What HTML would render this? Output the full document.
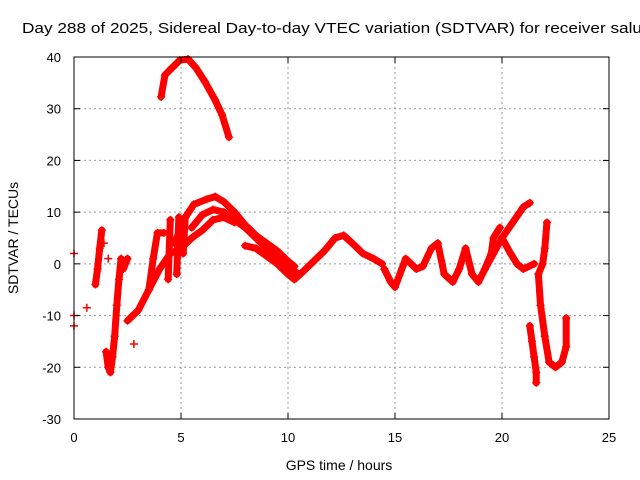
<!DOCTYPE html>
<html><head><meta charset="utf-8"><style>
body{margin:0;background:#fff;overflow:hidden}
svg{display:block;font-family:"Liberation Sans",sans-serif}
</style></head><body>
<svg id="c" width="640" height="480">
<text x="22" y="33" font-size="15" textLength="620" lengthAdjust="spacingAndGlyphs">Day 288 of 2025, Sidereal Day-to-day VTEC variation (SDTVAR) for receiver salu</text>
<g id="grid"></g>
<g id="marks"></g>
<rect x="74" y="57" width="535" height="362" fill="none" stroke="#000" stroke-width="1"/>
<g id="axes"></g>
<text x="339" y="470" text-anchor="middle" font-size="14">GPS time / hours</text>
<text transform="translate(18,238) rotate(-90)" text-anchor="middle" font-size="14">SDTVAR / TECUs</text>
</svg>
<script>
const xTicks=[0,5,10,15,20,25];
const yTicks=[-30,-20,-10,0,10,20,30,40];
const trackTop=[[4.07,32.3],[4.25,36.5],[4.58,37.9],[4.95,39.4],[5.33,39.6],[5.7,37.9],[6.12,35.2],[6.59,31.7],[6.92,28.8],[7.24,24.5]];
const trackUpper=[[4.7,4],[5.2,9],[5.6,11.5],[6.2,12.5],[6.6,13],[7,12],[7.5,10],[8,7.5],[8.5,5.5],[9,4],[9.5,2.5],[10,0.5],[10.3,-0.5]];
const trackMid=[[5.5,7],[6,9.5],[6.5,10.5],[7,10],[7.5,8.5],[8,7],[8.5,5],[9,3],[9.5,1.5],[10,-0.5],[10.5,-2]];
const trackLower=[[2.5,-11],[3,-9],[3.5,-5],[4,-1],[4.5,2],[5,3],[5.5,5],[6,6.5],[6.5,8.5],[7,9],[7.5,8]];
const trackLow2=[[8,3.5],[8.5,3],[9,1.5],[9.5,0],[10,-2],[10.3,-3],[10.7,-1.5],[11.2,0.5],[11.7,2.5],[12.2,5],[12.6,5.5],[13,4],[13.5,2],[14,1],[14.4,0]];
const trackMidB=[[14.5,-1],[14.8,-3.5],[15,-4.5],[15.5,1],[16,-1],[16.3,-0.5],[16.7,3],[17,4],[17.3,-2],[17.7,-3.5],[18,-1],[18.3,3],[18.6,-2],[18.9,-3.5],[19.2,-1],[19.5,2],[19.6,5],[19.9,7]];
const trackRise=[[19.2,-1],[19.6,2],[20,5],[20.5,8],[21,11],[21.3,11.8]];
const trackFall=[[20,5],[20.4,2],[20.7,0],[21,-1],[21.5,0]];
const trackRight=[[22.1,8],[22,3],[21.9,0],[21.7,-2],[21.8,-8],[22,-14],[22.2,-19],[22.5,-20],[22.8,-19],[23,-16],[23,-10.5]];
const trackRight2=[[21.3,-12],[21.4,-15],[21.5,-18],[21.6,-21],[21.6,-23]];
const leftA=[[1,-4],[1.1,-1],[1.2,3],[1.3,6.5]];
const leftB=[[1.5,-17],[1.6,-20],[1.7,-21],[1.8,-18],[1.9,-14],[2,-8],[2.1,-3],[2.2,1]];
const leftC=[[2.3,-1],[2.5,1]];
const leftD=[[3.5,-5],[3.7,1],[3.9,6],[4.2,6]];
const spike1=[[4.4,-3],[4.5,8.5]];
const spike2=[[4.8,-2],[4.9,9]];
const spike3=[[5.1,2],[5.2,9]];
const trackLeft=[[0,2],[0,-10],[0,-12],[0.6,-8.5],[1.4,4],[2.8,-15.5],[1.6,1]];
const tracks=[trackTop,trackUpper,trackMid,trackLower,trackLow2,trackMidB,trackRise,trackFall,trackRight,trackRight2,leftA,leftB,leftC,leftD,spike1,spike2,spike3,trackLeft];
const NS="http://www.w3.org/2000/svg";
const sx=h=>74+h*21.4, sy=v=>57+(40-v)*5.171;
const grid=document.getElementById('grid'),axes=document.getElementById('axes'),marks=document.getElementById('marks');
function mk(p,t,a){const e=document.createElementNS(NS,t);for(const k in a)e.setAttribute(k,a[k]);p.appendChild(e);return e;}
xTicks.forEach(t=>{const x=sx(t);
 if(t>0&&t<25){const l=mk(grid,'line',{x1:x,x2:x,y1:57,y2:419,stroke:'#999','stroke-dasharray':'2,3'});
 
 }
 const tx=mk(axes,'text',{x:x,y:442,'text-anchor':'middle','font-size':13});tx.textContent=t;
 
 
 mk(axes,'line',{x1:x,x2:x,y1:419,y2:413,stroke:'#000'});mk(axes,'line',{x1:x,x2:x,y1:57,y2:63,stroke:'#000'});});
yTicks.forEach(t=>{const y=sy(t);
 if(t>-30&&t<40){const l=mk(grid,'line',{x1:74,x2:609,y1:y,y2:y,stroke:'#999','stroke-dasharray':'2,3'});
 
 }
 const tx=mk(axes,'text',{x:61,y:y+5,'text-anchor':'end','font-size':13});tx.textContent=t;
 
 
 mk(axes,'line',{x1:74,x2:80,y1:y,y2:y,stroke:'#000'});mk(axes,'line',{x1:609,x2:603,y1:y,y2:y,stroke:'#000'});});
tracks.forEach(tr=>{
 if(tr!==trackLeft){const pl=mk(marks,'polyline',{points:tr.map(p=>sx(p[0])+','+sy(p[1])).join(' '),fill:'none',stroke:'#f00','stroke-width':7,'stroke-linejoin':'round','stroke-linecap':'round'});
 
 }
 tr.forEach(p=>{const x=sx(p[0]),y=sy(p[1]);
  const m=mk(marks,'path',{d:`M${x-4},${y}h8M${x},${y-4}v8`,stroke:'#f00','stroke-width':1.5});
  
  });
});
</script>
</body></html>
